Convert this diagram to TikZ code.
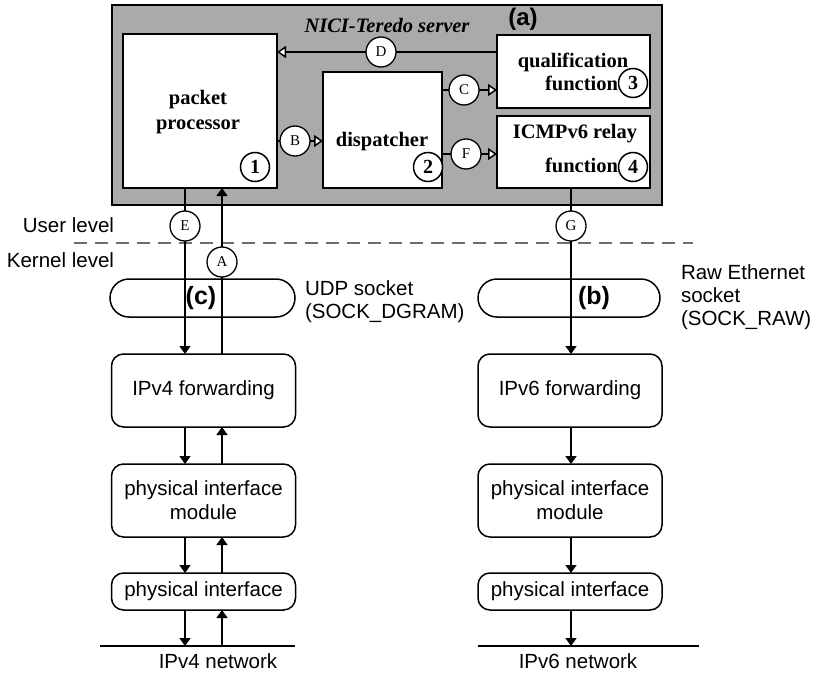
\documentclass[tikz,border=0pt]{standalone}
\usepackage{fontspec}
\setmainfont{Liberation Serif}
\setsansfont{Liberation Sans}
\usetikzlibrary{arrows.meta}
\definecolor{servergray}{RGB}{170,170,170}
\definecolor{levelgray}{RGB}{110,110,110}
\begin{document}
\begin{tikzpicture}[x=1pt,y=-1pt,
  every node/.style={inner sep=0pt, outer sep=0pt},
  modbox/.style={draw, line width=2pt, fill=white},
  modtext/.style={font=\fontsize{20.5}{25}\selectfont\bfseries, align=center},
  tag/.style={circle, draw, line width=1.3pt, fill=white, minimum size=30pt, font=\fontsize{15}{15}\selectfont},
  numtag/.style={circle, draw, line width=1.5pt, fill=white, minimum size=29pt, font=\fontsize{20}{20}\selectfont\bfseries},
  layer/.style={draw, line width=1.5pt, rounded corners=12pt, minimum width=184pt, font=\sffamily\fontsize{20.5}{24}\selectfont, align=center},
  sock/.style={draw, line width=1.5pt, rounded corners=19pt, minimum height=38pt},
  flow/.style={line width=1.5pt},
  openflow/.style={flow, -{Triangle[open, width=12pt, length=9pt, fill=white]}},
  pass/.style={flow, -{Triangle[width=11pt, length=8pt]}},
  lbl/.style={font=\sffamily\fontsize{20.5}{23}\selectfont, align=left},
]
\useasboundingbox (0,0) rectangle (816,674);

% user-level server and its modules
\node[draw, line width=2pt, fill=servergray, minimum width=550pt, minimum height=200pt] (server) at (387,105) {};
\node[modbox, minimum width=154pt, minimum height=154pt] (pp) at (200,111) {};
\node[modbox, minimum width=119pt, minimum height=116pt] (disp) at (382.5,130) {};
\node[modbox, minimum width=153pt, minimum height=73pt] (qual) at (573.5,71.5) {};
\node[modbox, minimum width=153pt, minimum height=72pt] (icmp) at (573.5,152) {};

\node[font=\fontsize{20.5}{24}\selectfont\bfseries\itshape] (title) at (387,25) {NICI-Teredo server};
\node[font=\sffamily\bfseries\fontsize{24}{24}\selectfont] (parta) at (523,19) {(a)};

\node[modtext] (pptext) at (198,112) {packet\\processor};
\node[modtext] (disptext) at (382,142) {dispatcher};
\node[modtext] (qualtext) at (573,62) {qualification};
\node[modtext, anchor=east] (qualfn) at (618,83) {function};
\node[modtext] (icmptext) at (575,134) {ICMPv6 relay};
\node[modtext, anchor=east] (icmpfn) at (618,165) {function};

\node[numtag] (n1) at (255,167) {1};
\node[numtag] (n2) at (428,167) {2};
\node[numtag] (n3) at (633,83) {3};
\node[numtag] (n4) at (633,167) {4};

% kernel-level stack, IPv4 side
\node[sock, minimum width=185pt] (sock4) at (202.5,298) {};
\node[layer, minimum height=73pt] (ipv4) at (203.5,390.5) {IPv4 forwarding};
\node[layer, minimum height=73pt] (phymod4) at (203.5,500.5) {physical interface\\module};
\node[layer, minimum height=37pt] (phyif4) at (203.5,591.5) {physical interface};

% kernel-level stack, IPv6 side
\node[sock, minimum width=182pt] (sock6) at (569,298) {};
\node[layer, minimum height=73pt] (ipv6) at (570,390.5) {IPv6 forwarding};
\node[layer, minimum height=73pt] (phymod6) at (570,500.5) {physical interface\\module};
\node[layer, minimum height=37pt] (phyif6) at (570,591.5) {physical interface};

\node[font=\sffamily\bfseries\fontsize{25}{25}\selectfont] (partc) at (201,298) {(c)};
\node[font=\sffamily\bfseries\fontsize{25}{25}\selectfont] (partb) at (594,298) {(b)};
\node[lbl, anchor=west] (udplbl) at (305,302) {UDP socket\\(SOCK\_DGRAM)};
\node[lbl, anchor=west] (rawlbl) at (681,297) {Raw Ethernet\\socket\\(SOCK\_RAW)};

% user / kernel boundary
\node[lbl, anchor=east] (userlbl) at (114,225) {User level};
\node[lbl, anchor=east] (kernlbl) at (114,260) {Kernel level};
\coordinate (dashL) at (74,243);
\coordinate (dashR) at (693,243);
\draw[levelgray, line width=1.5pt, dash pattern=on 13pt off 8pt] (dashL) -- (dashR);

% networks
\coordinate (net4L) at (100,646);
\coordinate (net4R) at (295,646);
\coordinate (net6L) at (478,646);
\coordinate (net6R) at (699,646);
\draw[flow] (net4L) -- (net4R);
\draw[flow] (net6L) -- (net6R);
\node[lbl] (net4lbl) at (218,661) {IPv4 network};
\node[lbl] (net6lbl) at (578,661) {IPv6 network};

% flow tags
\node[tag] (D) at (381,52) {D};
\node[tag] (B) at (295,141) {B};
\node[tag] (C) at (464,90) {C};
\node[tag] (F) at (466,154) {F};
\node[tag] (E) at (185,226) {E};
\node[tag] (A) at (222,262) {A};
\node[tag] (G) at (571,226) {G};

% connectors inside the server
\draw[flow] (qual.west |- D) -- (D.east);
\draw[openflow] (D.west) -- (pp.east |- D);
\draw[flow] (pp.east |- B) -- (B.west);
\draw[openflow] (B.east) -- (disp.west |- B);
\draw[flow] (disp.east |- C) -- (C.west);
\draw[openflow] (C.east) -- (qual.west |- C);
\draw[flow] (disp.east |- F) -- (F.west);
\draw[openflow] (F.east) -- (icmp.west |- F);

% IPv4 path
\draw[flow] (pp.south -| E) -- (E.north);
\draw[pass] (E.south) -- (ipv4.north -| E);
\draw[flow] (ipv4.north -| A) -- (A.south);
\draw[pass] (A.north) -- (pp.south -| A);
\draw[pass] (ipv4.south -| E) -- (phymod4.north -| E);
\draw[pass] (phymod4.north -| A) -- (ipv4.south -| A);
\draw[pass] (phymod4.south -| E) -- (phyif4.north -| E);
\draw[pass] (phyif4.north -| A) -- (phymod4.south -| A);
\draw[pass] (phyif4.south -| E) -- (net4L -| E);
\draw[pass] (net4L -| A) -- (phyif4.south -| A);

% IPv6 path
\draw[flow] (icmp.south -| G) -- (G.north);
\draw[pass] (G.south) -- (ipv6.north -| G);
\draw[pass] (ipv6.south -| G) -- (phymod6.north -| G);
\draw[pass] (phymod6.south -| G) -- (phyif6.north -| G);
\draw[pass] (phyif6.south -| G) -- (net6L -| G);
\end{tikzpicture}
\end{document}
